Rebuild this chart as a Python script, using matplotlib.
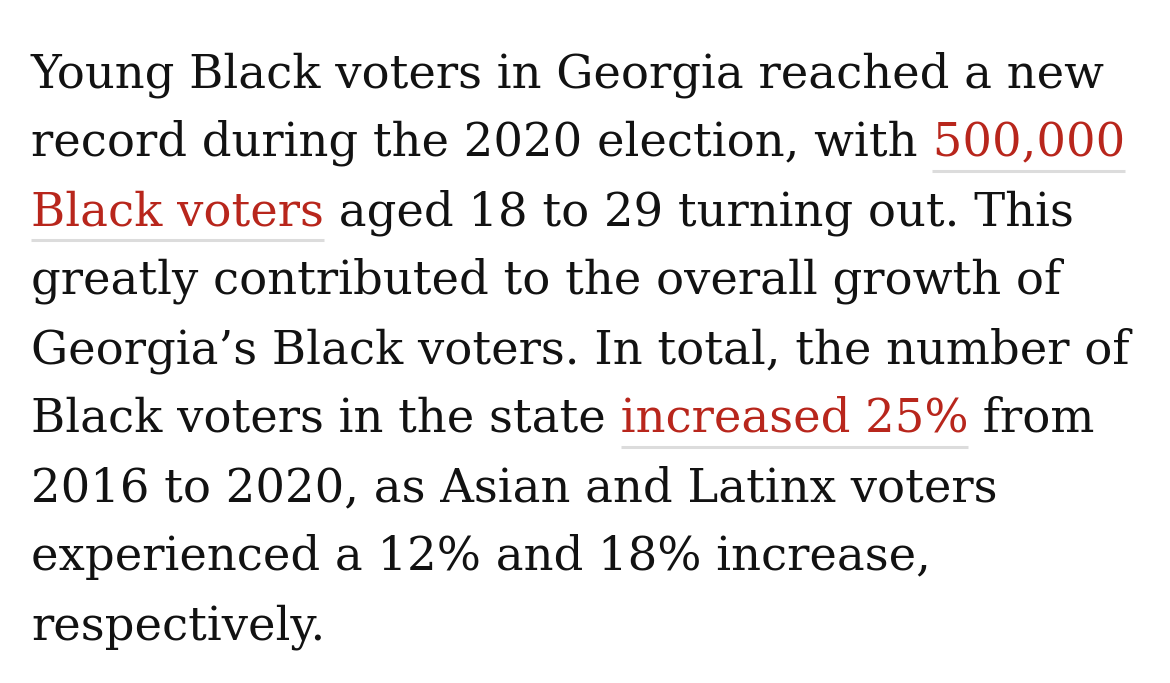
import matplotlib
matplotlib.use("Agg")
import matplotlib.pyplot as plt
from matplotlib.lines import Line2D

# Paragraph text, split into (segment, highlighted) pieces per line
lines = [
    [("Young Black voters in Georgia reached a new", False)],
    [("record during the 2020 election, with", False), (" 500,000", True)],
    [("Black voters", True), (" aged 18 to 29 turning out. This", False)],
    [("greatly contributed to the overall growth of", False)],
    [("Georgia\u2019s Black voters. In total, the number of", False)],
    [("Black voters in the state", False), (" increased 25%", True), (" from", False)],
    [("2016 to 2020, as Asian and Latinx voters", False)],
    [("experienced a 12% and 18% increase,", False)],
    [("respectively.", False)],
]

text_color = "#121212"
link_color = "#b8261c"
underline_color = "#dcdcdc"
font_family = ["DejaVu Serif"]
font_size = 33.5

W, H = 1170, 683
left_px = 31
first_baseline_px = 87
line_step_px = 69.0

fig = plt.figure(figsize=(W / 100, H / 100), dpi=100)
fig.patch.set_facecolor("white")

red_texts = []
for i, segs in enumerate(lines):
    y = H - (first_baseline_px + i * line_step_px)
    prev_right = left_px
    for seg, red in segs:
        color = link_color if red else text_color
        t = fig.text(prev_right, y, seg, transform=None, fontsize=font_size,
                     family=font_family, color=color, va="baseline", ha="left")
        fig.canvas.draw()
        prev_right = t.get_window_extent().x1
        if red:
            red_texts.append((t, y, seg.startswith(" ")))

# light grey underline under the highlighted phrases
r = fig.canvas.get_renderer()
sp = fig.text(0, 0, " ", fontsize=font_size, family=font_family)
space_w = sp.get_window_extent(renderer=r).width
sp.remove()
for t, y, lead in red_texts:
    bb = t.get_window_extent(renderer=r)
    x0 = bb.x0 + (space_w if lead else 0)
    fig.add_artist(Line2D([x0, bb.x1], [y - 15, y - 15], transform=None,
                          color=underline_color, linewidth=2.2, solid_capstyle="butt"))

fig.savefig("out.png", dpi=100, facecolor="white")
